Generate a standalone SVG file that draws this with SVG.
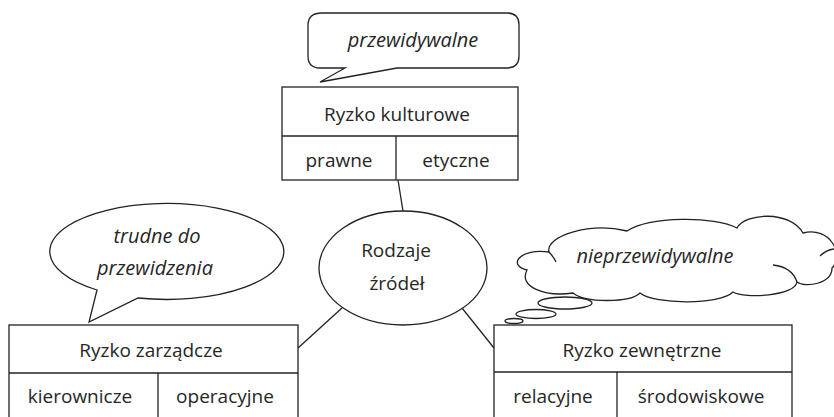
<svg xmlns="http://www.w3.org/2000/svg" width="834" height="417" viewBox="0 0 834 417">
<style>
.s{fill:#fff;stroke:#222;stroke-width:1.3}
.o{fill:none;stroke:#222;stroke-width:1.3}
.t{font-family:"Open Sans","Liberation Sans",sans-serif;font-size:19px;fill:#262626;text-anchor:middle}
.i{font-style:italic;font-size:20px}
</style>
<rect width="834" height="417" fill="#fff"/>
<g id="connectors" class="o">
<line x1="398" y1="180" x2="403" y2="211"/>
<line x1="342" y1="308" x2="298" y2="348"/>
<line x1="462" y1="308" x2="494" y2="348"/>
</g>
<g id="callout-top">
<path class="s" d="M322,13 H507 Q519,13 519,25 V56 Q519,68 507,68 H397 L320,82 L345,68 H320 Q308,68 308,56 V25 Q308,13 322,13 Z"/>
<text class="t i" x="413" y="47">przewidywalne</text>
</g>
<g id="box-kulturowe">
<rect class="s" x="282" y="87" width="236" height="93"/>
<line class="o" x1="282" y1="136" x2="518" y2="136"/>
<line class="o" x1="396" y1="136" x2="396" y2="180"/>
<text class="t" x="397" y="121">Ryzko kulturowe</text>
<text class="t" x="339" y="167">prawne</text>
<text class="t" x="456" y="167">etyczne</text>
</g>
<g id="center">
<ellipse class="s" cx="403" cy="268" rx="84" ry="57"/>
<text class="t" x="396" y="257">Rodzaje</text>
<text class="t" x="397" y="290">źródeł</text>
</g>
<g id="callout-left">
<path class="s" d="M97,290 L89,322 L138,298 A117 48 0 1 0 97,290 Z"/>
<text class="t i" x="157" y="243">trudne do</text>
<text class="t i" x="155" y="275">przewidzenia</text>
</g>
<g id="cloud">
<path class="s" d="M549,252 C545,236 590,222 627,231 C650,216 715,216 737,228 C745,213 790,210 803,233 C830,226 845,255 832,268 C832,284 805,288 797,282 C795,296 745,299 733,292 C720,305 655,305 640,293 C630,303 585,303 573,293 C545,297 518,287 527,270 C508,266 518,248 549,252 Z"/>
<path class="o" d="M773,265 Q792,267 797,282 M820,256 Q826,250 834,249 M549,252 Q553,256 556,262"/>
<ellipse class="s" cx="565" cy="303" rx="27" ry="6"/>
<ellipse class="s" cx="536" cy="314" rx="20" ry="4.5"/>
<ellipse class="s" cx="514" cy="321" rx="9" ry="2.5"/>
<text class="t i" x="655" y="263">nieprzewidywalne</text>
</g>
<g id="box-zarzadcze">
<rect class="s" x="9" y="325" width="289" height="110"/>
<line class="o" x1="9" y1="373" x2="298" y2="373"/>
<line class="o" x1="158" y1="373" x2="158" y2="417"/>
<text class="t" x="151" y="357">Ryzko zarządcze</text>
<text class="t" x="80" y="403">kierownicze</text>
<text class="t" x="225" y="403">operacyjne</text>
</g>
<g id="box-zewnetrzne">
<rect class="s" x="494" y="325" width="298" height="110"/>
<line class="o" x1="494" y1="372" x2="792" y2="372"/>
<line class="o" x1="617" y1="372" x2="617" y2="417"/>
<text class="t" x="642" y="357">Ryzko zewnętrzne</text>
<text class="t" x="553" y="403">relacyjne</text>
<text class="t" x="701" y="403">środowiskowe</text>
</g>
</svg>
